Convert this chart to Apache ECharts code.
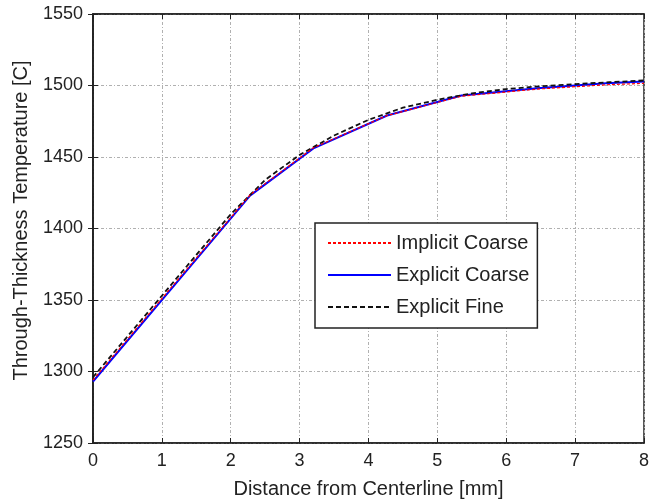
<!DOCTYPE html>
<html>
<head>
<meta charset="utf-8">
<script src="https://cdn.jsdelivr.net/npm/echarts@6/dist/echarts.min.js"></script>
<style>
  html, body { margin: 0; padding: 0; background: #fff; }
  #chart { width: 652px; height: 504px; }
</style>
</head>
<body>
<div id="chart"></div>
<script>
// coarse mesh nodes (mm) and temperatures
const coarseX = [0, 1.14, 2.28, 3.2, 4.27, 5.35, 6.45, 7.45, 8];
const implicitCoarse = [1294, 1359, 1423.5, 1456.5, 1479, 1492.5, 1497.5, 1500.5, 1501.5];
const explicitCoarse = [1293, 1358, 1423, 1456, 1479, 1493, 1498, 1501.5, 1502.8];
// fine mesh
const fineX = [0, 0.5, 1, 1.5, 2, 2.5, 3, 3.5, 4, 4.5, 5, 5.5, 6, 6.5, 7, 7.5, 8];
const explicitFine = [1296, 1324.5, 1353, 1381.5, 1410, 1434, 1451.5, 1465, 1476, 1484.5, 1490, 1494.5, 1497.5, 1499.5, 1501, 1502.3, 1503.5];

const seriesNames = ["Implicit Coarse", "Explicit Coarse", "Explicit Fine"];

function pairs(xs, ys) {
  return xs.map((x, i) => [x, ys[i]]);
}

const textColor = "#222";
const font = "Liberation Sans, Arial, sans-serif";
const gridLine = { show: true, lineStyle: { color: "#b0b0b0", type: [3, 2, 1, 2], width: 1 } };

const chart = echarts.init(document.getElementById("chart"));
chart.setOption({
  animation: false,
  textStyle: { fontFamily: font, color: textColor },
  grid: {
    left: 93, right: 6, top: 14, bottom: 58,
    show: true, borderColor: "#222", borderWidth: 1.5
  },
  legend: {
    data: seriesNames,
    orient: "vertical",
    left: 315, top: 223,
    padding: [10, 8, 11, 12],
    itemGap: 12,
    itemWidth: 63,
    itemHeight: 4,
    itemStyle: { opacity: 0 },
    borderColor: "#222",
    borderWidth: 1.5,
    backgroundColor: "#fff",
    textStyle: { fontSize: 20, color: textColor, fontFamily: font }
  },
  xAxis: [
    {
      type: "value", min: 0, max: 8, interval: 1,
      name: "Distance from Centerline [mm]",
      nameLocation: "middle", nameGap: 36,
      nameTextStyle: { fontSize: 20, color: textColor },
      axisLine: { show: true, lineStyle: { color: "#222", width: 1.5 } },
      axisTick: { inside: true, length: 5, lineStyle: { color: "#222" } },
      axisLabel: { fontSize: 18, color: textColor, margin: 9 },
      splitLine: gridLine
    },
    {
      type: "value", min: 0, max: 8, interval: 1, position: "top",
      axisLine: { show: true, lineStyle: { color: "#222", width: 1.5 } },
      axisTick: { inside: true, length: 5, lineStyle: { color: "#222" } },
      axisLabel: { show: false },
      splitLine: { show: false }
    }
  ],
  yAxis: [
    {
      type: "value", min: 1250, max: 1550, interval: 50,
      name: "Through-Thickness Temperature [C]",
      nameLocation: "middle", nameGap: 62,
      nameTextStyle: { fontSize: 20, color: textColor, padding: [0, 0, 0, 16] },
      axisLine: { show: true, lineStyle: { color: "#222", width: 1.5 } },
      axisTick: { inside: true, length: 5, lineStyle: { color: "#222" } },
      axisLabel: { fontSize: 18, color: textColor, margin: 10, formatter: (v) => String(v) },
      splitLine: gridLine
    },
    {
      type: "value", min: 1250, max: 1550, interval: 50, position: "right",
      axisLine: { show: true, lineStyle: { color: "#222", width: 1.5 } },
      axisTick: { inside: true, length: 5, lineStyle: { color: "#222" } },
      axisLabel: { show: false },
      splitLine: { show: false }
    }
  ],
  series: [
    {
      name: seriesNames[2], type: "line", symbol: "none", z: 3,
      data: pairs(fineX, explicitFine),
      lineStyle: { color: "#111", width: 1.8, type: [5, 3] },
      itemStyle: { color: "#111" }
    },
    {
      name: seriesNames[1], type: "line", symbol: "none", z: 2,
      data: pairs(coarseX, explicitCoarse),
      lineStyle: { color: "#0000ff", width: 2 },
      itemStyle: { color: "#0000ff" }
    },
    {
      name: seriesNames[0], type: "line", symbol: "none", z: 4,
      data: pairs(coarseX, implicitCoarse),
      lineStyle: { color: "#ff0000", width: 1.2, type: [3, 2] },
      itemStyle: { color: "#ff0000" }
    }
  ]
});
</script>
</body>
</html>
